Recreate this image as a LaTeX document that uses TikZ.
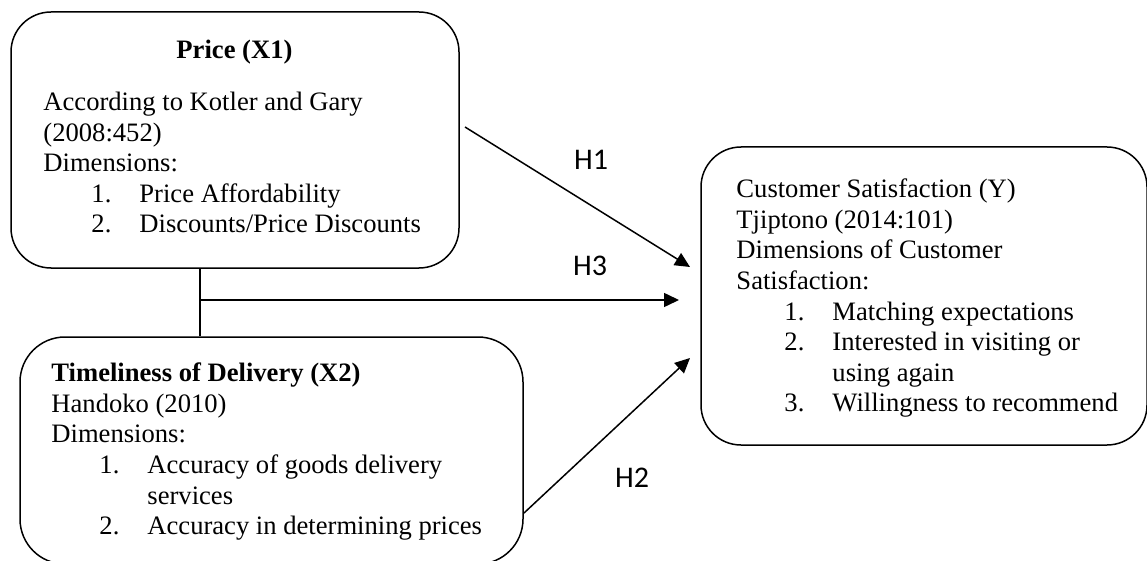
\documentclass[tikz,border=0pt]{standalone}
\usepackage{fontspec}
\setmainfont{Liberation Serif}
\newfontfamily\labelfont{Carlito}
\usetikzlibrary{arrows.meta,positioning,calc}
\newcommand{\dimitem}[2]{\hspace*{48pt}\makebox[48pt][l]{#1}#2}
\tikzset{
  varbox/.style={
    draw=black,
    line width=1.5pt,
    rounded corners=40pt,
    inner sep=0pt
  },
  vartext/.style={
    anchor=north west,
    align=left,
    inner sep=0pt,
    font=\fontsize{26.6}{30.6}\selectfont
  },
  hyparrow/.style={-{Triangle[length=15pt,width=14pt]}, line width=1.5pt},
  hyplink/.style={line width=1.5pt},
  hyplabel/.style={font=\labelfont\fontsize{30}{32}\selectfont, inner sep=0pt}
}

\begin{document}
\begin{tikzpicture}[x=1pt,y=1pt]
\useasboundingbox (0,0) rectangle (1147,-561);

\node[varbox, minimum width=448pt, minimum height=256pt] (price) at (235,-140) {};
\node[varbox, minimum width=503pt, minimum height=227pt, rounded corners=45pt] (timely) at (271.5,-450.5) {};
\node[varbox, minimum width=446pt, minimum height=298pt] (satis) at (924,-296) {};

\node[vartext] (pricetxt) at ($(price.north west)+(33,-29)$)
  {\makebox[382pt]{\textbf{Price (X1)}}\\[21pt]
   According to Kotler and Gary\\
   (2008:452)\\
   Dimensions:\\
   \dimitem{1.}{Price Affordability}\\
   \dimitem{2.}{Discounts/Price Discounts}};
\node[vartext] (timelytxt) at ($(timely.north west)+(32,-26.5)$)
  {\textbf{Timeliness of Delivery (X2)}\\
   Handoko (2010)\\
   Dimensions:\\
   \dimitem{1.}{Accuracy of goods delivery}\\
   \hspace*{96pt}services\\
   \dimitem{2.}{Accuracy in determining prices}};
\node[vartext] (satistxt) at ($(satis.north west)+(36,-32.5)$)
  {Customer Satisfaction (Y)\\
   Tjiptono (2014:101)\\
   Dimensions of Customer\\
   Satisfaction:\\
   \dimitem{1.}{Matching expectations}\\
   \dimitem{2.}{Interested in visiting or}\\
   \hspace*{96pt}using again\\
   \dimitem{3.}{Willingness to recommend}};

% hypothesis paths
\coordinate (split) at (200,-300);
\coordinate (h1start) at (465,-127);
\coordinate (h1end) at (690,-267);
\coordinate (h2start) at (524,-513);
\coordinate (h2end) at (690,-358);
\coordinate (h3end) at (679,-300);

\draw[hyplink] (split |- price.south) -- (split |- timely.north);
\draw[hyparrow] (split) -- (h3end);
\draw[hyparrow] (h1start) -- (h1end);
\draw[hyparrow] (h2start) -- (h2end);

\node[hyplabel] (h1) at (591,-160) {H1};
\node[hyplabel] (h3) at (590,-266) {H3};
\node[hyplabel] (h2) at (632,-478) {H2};
\end{tikzpicture}
\end{document}
